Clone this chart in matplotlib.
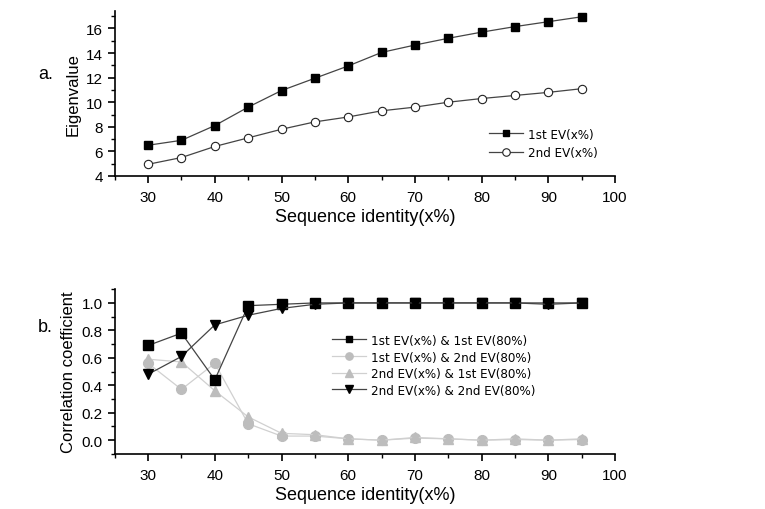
import matplotlib
matplotlib.use("Agg")
import matplotlib.pyplot as plt
from matplotlib import font_manager
from matplotlib.ticker import MultipleLocator

plt.rcParams["font.family"] = ["Liberation Sans", "DejaVu Sans"]

identity = [30, 35, 40, 45, 50, 55, 60, 65, 70, 75, 80, 85, 90, 95]

ev1 = [6.5, 6.9, 8.1, 9.6, 10.95, 11.95, 12.95, 14.05, 14.65, 15.2, 15.7, 16.15, 16.55, 16.95]
ev2 = [4.95, 5.5, 6.4, 7.1, 7.8, 8.4, 8.8, 9.3, 9.6, 10.0, 10.3, 10.55, 10.8, 11.1]

cc_11 = [0.69, 0.78, 0.44, 0.98, 0.99, 1.0, 1.0, 1.0, 1.0, 1.0, 1.0, 1.0, 1.0, 1.0]
cc_12 = [0.56, 0.37, 0.56, 0.12, 0.03, 0.03, 0.01, 0.0, 0.015, 0.01, 0.0, 0.005, 0.0, 0.005]
cc_21 = [0.59, 0.57, 0.36, 0.17, 0.05, 0.04, 0.01, 0.0, 0.02, 0.01, 0.0, 0.01, 0.0, 0.01]
cc_22 = [0.48, 0.61, 0.84, 0.91, 0.96, 0.99, 1.0, 1.0, 1.0, 1.0, 1.0, 1.0, 0.99, 1.0]

# legend text in the original is tall and narrow, condensed DejaVu comes closest
legend_font = font_manager.FontProperties(family="DejaVu Sans", stretch="condensed", size=9.5)

fig = plt.figure(figsize=(7.65, 5.1), dpi=100)
ax1 = fig.add_axes([0.150, 0.653, 0.654, 0.323])
ax2 = fig.add_axes([0.150, 0.108, 0.654, 0.323])

dark = "#444444"
grey = "#bdbdbd"
grey_line = "#d0d0d0"

ax1.plot(identity, ev1, color=dark, lw=0.9, marker="s", ms=5.5, mfc="black", mec="black",
         label="1st EV(x%)")
ax1.plot(identity, ev2, color=dark, lw=0.9, marker="o", ms=6, mfc="white", mec="#222222",
         mew=0.8, label="2nd EV(x%)")
ax1.set_ylim(4, 17.4)
ax1.yaxis.set_major_locator(MultipleLocator(2))
ax1.yaxis.set_minor_locator(MultipleLocator(1))
ax1.set_ylabel("Eigenvalue", fontsize=12)
ax1.legend(loc="lower right", bbox_to_anchor=(0.99, 0.03), frameon=False, prop=legend_font,
           handlelength=2.6, handletextpad=0.4, labelspacing=0.4, markerscale=0.9)

ax2.plot(identity, cc_11, color=dark, lw=0.9, marker="s", ms=6.5, mfc="black", mec="black",
         label="1st EV(x%) & 1st EV(80%)", zorder=4)
ax2.plot(identity, cc_12, color=grey_line, lw=0.9, marker="o", ms=7, mfc=grey, mec=grey,
         label="1st EV(x%) & 2nd EV(80%)", zorder=3)
ax2.plot(identity, cc_21, color=grey_line, lw=0.9, marker="^", ms=7, mfc=grey, mec=grey,
         label="2nd EV(x%) & 1st EV(80%)", zorder=3)
ax2.plot(identity, cc_22, color=dark, lw=0.9, marker="v", ms=7, mfc="black", mec="black",
         label="2nd EV(x%) & 2nd EV(80%)", zorder=4)
ax2.set_ylim(-0.1, 1.1)
ax2.yaxis.set_major_locator(MultipleLocator(0.2))
ax2.yaxis.set_minor_locator(MultipleLocator(0.1))
ax2.set_ylabel("Correlation coefficient", fontsize=12)
ax2.legend(loc="upper left", bbox_to_anchor=(0.41, 0.80), frameon=False, prop=legend_font,
           handlelength=2.6, handletextpad=0.4, labelspacing=0.28, markerscale=0.75)

for ax in (ax1, ax2):
    ax.set_xlim(25, 100)
    ax.xaxis.set_major_locator(MultipleLocator(10))
    ax.xaxis.set_minor_locator(MultipleLocator(5))
    ax.spines["top"].set_visible(False)
    ax.spines["right"].set_visible(False)
    for s in ("left", "bottom"):
        ax.spines[s].set_linewidth(1.2)
    ax.tick_params(which="major", direction="out", length=5, width=1.2, labelsize=11)
    ax.tick_params(axis="x", which="major", pad=5)
    ax.tick_params(which="minor", direction="out", length=3, width=1.0)
    ax.set_xlabel("Sequence identity(x%)", fontsize=13, labelpad=3)

ax1.yaxis.set_major_formatter(plt.FuncFormatter(lambda v, p: f"{v:g}"))
ax2.yaxis.set_major_formatter(plt.FuncFormatter(lambda v, p: f"{v:.1f}"))

fig.text(0.05, 0.845, "a.", fontsize=13)
fig.text(0.05, 0.35, "b.", fontsize=13)

fig.savefig("out.png", dpi=100)
